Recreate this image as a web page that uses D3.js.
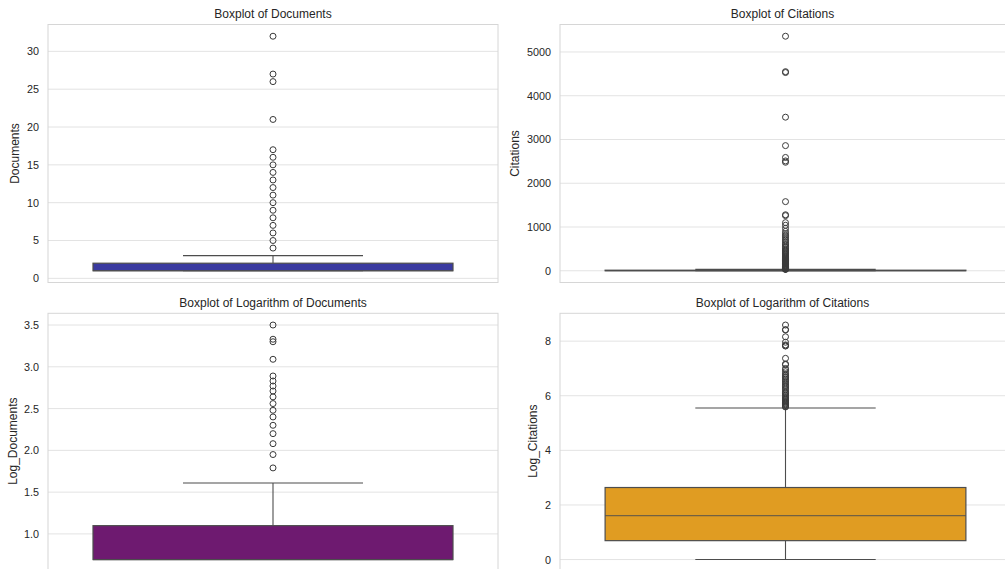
<!DOCTYPE html>
<html>
<head>
<meta charset="utf-8">
<script src="https://cdn.jsdelivr.net/npm/d3@7"></script>
<style>
  html, body { margin: 0; padding: 0; background: #ffffff; }
  svg { display: block; font-family: "Liberation Sans", Arial, sans-serif; }
</style>
</head>
<body>
<svg id="chart" width="1005" height="569"></svg>
<script>
// ---- Data ----
const panelTitles = ["Boxplot of Documents", "Boxplot of Citations",
                     "Boxplot of Logarithm of Documents", "Boxplot of Logarithm of Citations"];
const yLabels = ["Documents", "Citations", "Log_Documents", "Log_Citations"];

// box statistics: [whisker low, Q1, median, Q3, whisker high]
const docStats    = [1, 1, 1, 2, 3];
const citStats    = [0, 1, 4, 13, 31];
const logDocStats = [0.693, 0.693, 0.693, 1.099, 1.609];
const logCitStats = [0, 0.693, 1.609, 2.639, 5.55];

const docOutliers = [4, 5, 6, 7, 8, 9, 10, 11, 12, 13, 14, 15, 16, 17, 21, 26, 27, 32];
const citOutliers = [5360, 4550, 4530, 3510, 2860, 2590, 2510, 2480, 1580, 1280, 1260, 1100,
                     1040, 970, 900, 850, 810, 780, 740, 700, 660, 620, 590, 560, 530, 500,
                     470, 450, 430, 410, 390, 370, 350, 330, 310, 290, 275, 262, 250, 240,
                     230, 220, 210, 200, 190, 180, 170, 160, 150, 140, 130, 120, 110, 100,
                     95, 90, 85, 80, 75, 70, 65, 60, 55, 50, 46, 42, 38, 35, 32];
const logDocOutliers = [1.79, 1.95, 2.08, 2.20, 2.30, 2.40, 2.48, 2.56, 2.64, 2.71, 2.77,
                        2.83, 2.89, 3.09, 3.30, 3.33, 3.50];
const logCitOutliers = [8.59, 8.42, 8.41, 8.16, 7.96, 7.86, 7.83, 7.82, 7.37, 7.16, 7.14,
                        7.00, 6.95, 6.88, 6.80, 6.75, 6.70, 6.66, 6.61, 6.55, 6.50, 6.43,
                        6.38, 6.33, 6.28, 6.22, 6.16, 6.11, 6.07, 6.02, 5.97, 5.93, 5.89,
                        5.86, 5.82, 5.79, 5.76, 5.73, 5.70, 5.67, 5.64, 5.61, 5.59];

const docTicks    = [0, 5, 10, 15, 20, 25, 30];
const citTicks    = [0, 1000, 2000, 3000, 4000, 5000];
const logDocTicks = [1.0, 1.5, 2.0, 2.5, 3.0, 3.5];
const logCitTicks = [0, 2, 4, 6, 8];

const boxColors = ["#3a3aa0", "#3f9f3f", "#6e1a70", "#e09c22"];

// ---- Layout ----
const panels = [
  { stats: docStats,    outliers: docOutliers,    ticks: docTicks,    fmt: d3.format("d"),
    x0: 48,  x1: 498,  y0: 24.5,  y1: 282.5, ylabX: 15 },
  { stats: citStats,    outliers: citOutliers,    ticks: citTicks,    fmt: d3.format("d"),
    x0: 560, x1: 1011, y0: 24.5,  y1: 282.5, ylabX: 515 },
  { stats: logDocStats, outliers: logDocOutliers, ticks: logDocTicks, fmt: d3.format(".1f"),
    x0: 48,  x1: 498,  y0: 313.3, y1: 571.3, ylabX: 13 },
  { stats: logCitStats, outliers: logCitOutliers, ticks: logCitTicks, fmt: d3.format("d"),
    x0: 560, x1: 1011, y0: 313.3, y1: 571.3, ylabX: 533 }
];

const svg = d3.select("#chart");
const textColor = "#262626";
const lineColor = "#4d4d4d";

panels.forEach((p, i) => {
  const lo = d3.min([p.stats[0], ...p.outliers]);
  const hi = d3.max([p.stats[4], ...p.outliers]);
  const pad = (hi - lo) * 0.05;
  const y = d3.scaleLinear().domain([lo - pad, hi + pad]).range([p.y1, p.y0]);
  const x = d3.scaleLinear().domain([-0.5, 0.5]).range([p.x0, p.x1]);

  const g = svg.append("g");

  // grid
  g.append("g").selectAll("line").data(p.ticks).join("line")
    .attr("x1", p.x0).attr("x2", p.x1)
    .attr("y1", d => y(d)).attr("y2", d => y(d))
    .attr("stroke", "#e3e3e3").attr("stroke-width", 1);

  // frame
  g.append("rect").attr("x", p.x0).attr("y", p.y0)
    .attr("width", p.x1 - p.x0).attr("height", p.y1 - p.y0)
    .attr("fill", "none").attr("stroke", "#d6d6d6").attr("stroke-width", 1);

  // y axis tick labels
  const axis = d3.axisLeft(y).tickValues(p.ticks).tickFormat(p.fmt).tickSize(0).tickPadding(9);
  const ag = g.append("g").attr("transform", `translate(${p.x0},0)`).call(axis);
  ag.select(".domain").remove();
  ag.selectAll("text").attr("fill", textColor).style("font-size", "10.8px")
    .style("font-family", "'Liberation Sans', Arial, sans-serif");

  // title
  g.append("text").attr("x", (p.x0 + p.x1) / 2 - (i % 2 ? 3 : 0)).attr("y", p.y0 - 6.5)
    .attr("text-anchor", "middle").attr("fill", textColor)
    .style("font-size", "12px").text(panelTitles[i]);

  // y label
  g.append("text")
    .attr("transform", `translate(${p.ylabX},${(p.y0 + Math.min(p.y1, 569)) / 2 + (i >= 2 ? 0 : 0)}) rotate(-90)`)
    .attr("text-anchor", "middle").attr("dominant-baseline", "central")
    .attr("fill", textColor).style("font-size", "12px").text(yLabels[i]);

  // box plot
  const [wl, q1, med, q3, wh] = p.stats;
  const cx = x(0);
  // whiskers
  g.append("line").attr("x1", cx).attr("x2", cx).attr("y1", y(q3)).attr("y2", y(wh))
    .attr("stroke", lineColor).attr("stroke-width", 1.1);
  g.append("line").attr("x1", cx).attr("x2", cx).attr("y1", y(q1)).attr("y2", y(wl))
    .attr("stroke", lineColor).attr("stroke-width", 1.1);
  // caps
  [wl, wh].forEach(v => {
    g.append("line").attr("x1", x(-0.2)).attr("x2", x(0.2)).attr("y1", y(v)).attr("y2", y(v))
      .attr("stroke", lineColor).attr("stroke-width", 1.1);
  });
  // box
  g.append("rect").attr("x", x(-0.4)).attr("y", y(q3))
    .attr("width", x(0.4) - x(-0.4)).attr("height", Math.max(0.5, y(q1) - y(q3)))
    .attr("fill", boxColors[i]).attr("stroke", lineColor).attr("stroke-width", 1.2);
  // median
  g.append("line").attr("x1", x(-0.4)).attr("x2", x(0.4)).attr("y1", y(med)).attr("y2", y(med))
    .attr("stroke", lineColor).attr("stroke-opacity", 0.75).attr("stroke-width", 1.2);
  // outliers
  g.append("g").selectAll("circle").data(p.outliers).join("circle")
    .attr("cx", cx).attr("cy", d => y(d)).attr("r", 3)
    .attr("fill", "none").attr("stroke", "#3a3a3a").attr("stroke-width", 1);
});
</script>
</body>
</html>
